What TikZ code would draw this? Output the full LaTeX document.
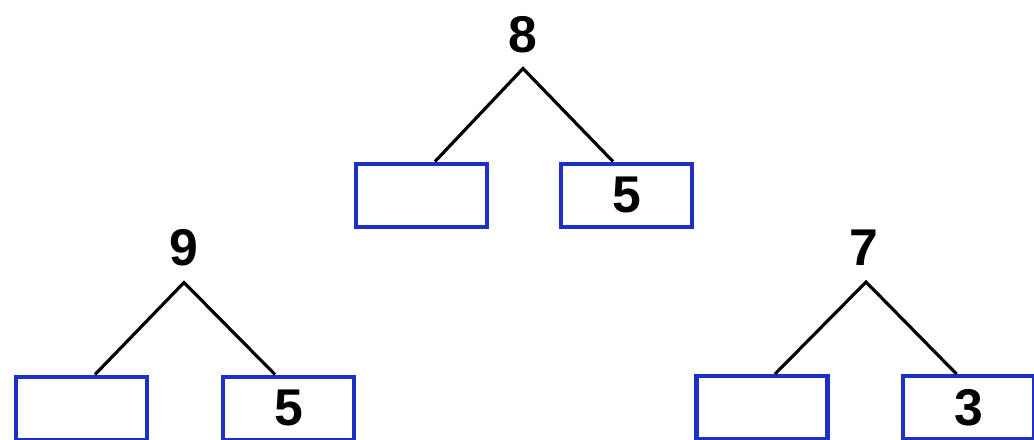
\documentclass[tikz,border=0pt]{standalone}
\usepackage{fontspec}
\setmainfont{Liberation Sans}
\usepackage{tikz}
\usetikzlibrary{positioning, calc}
\definecolor{boxblue}{RGB}{28,48,196}

\begin{document}
\begin{tikzpicture}[
    x=0.01cm, y=-0.01cm,
    numlabel/.style={inner sep=0pt, font=\fontsize{14.7}{17}\selectfont\bfseries},
    answerbox/.style={draw=boxblue, line width=1.2pt, rectangle, minimum width=1.31cm, minimum height=0.63cm, inner sep=0pt, font=\fontsize{14.7}{17}\selectfont\bfseries},
    edge/.style={line width=0.9pt}
]
\useasboundingbox (0,0) rectangle (1034,439);

% Zahlen oben
\node[numlabel] (n8) at (523,35) {8};
\node[numlabel] (n9) at (184,248) {9};
\node[numlabel] (n7) at (864,248) {7};

% Kaestchen
\node[answerbox, below=1.075cm of n8, xshift=-1.015cm] (b8l) {};
\node[answerbox, below=1.075cm of n8, xshift=1.035cm] (b8r) {5};
\node[answerbox, below=1.075cm of n9, xshift=-1.025cm] (b9l) {};
\node[answerbox, below=1.075cm of n9, xshift=1.045cm] (b9r) {5};
\node[answerbox, below=1.075cm of n7, xshift=-1.02cm] (b7l) {};
\node[answerbox, below=1.075cm of n7, xshift=1.045cm] (b7r) {3};

% Aeste
\draw[edge] ([xshift=0.135cm]b8l.north) -- ([yshift=-0.145cm]n8.south) -- ([xshift=-0.135cm]b8r.north);
\draw[edge] ([xshift=0.135cm]b9l.north) -- ([yshift=-0.155cm]n9.south) -- ([xshift=-0.135cm]b9r.north);
\draw[edge] ([xshift=0.13cm]b7l.north) -- ([yshift=-0.155cm,xshift=0.02cm]n7.south) -- ([xshift=-0.12cm]b7r.north);

\end{tikzpicture}
\end{document}
